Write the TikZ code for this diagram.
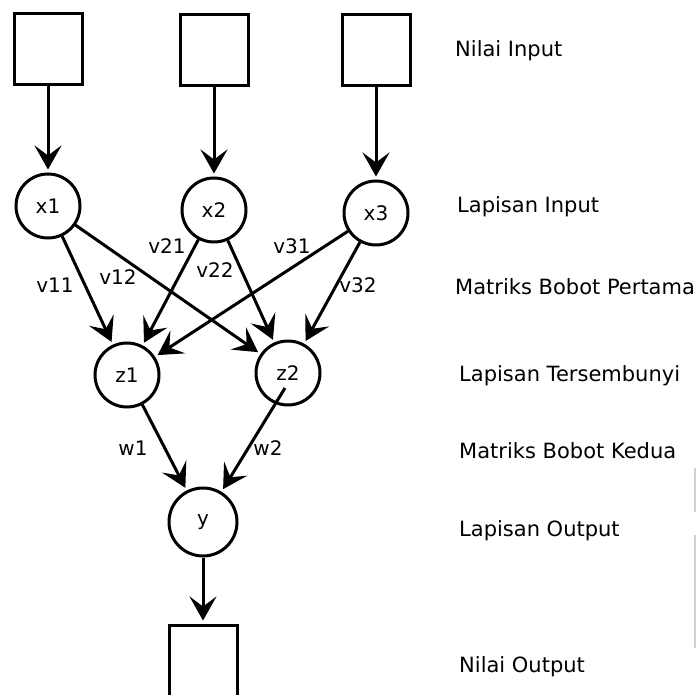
\documentclass[tikz,border=0pt]{standalone}
\usepackage{fontspec}
\setmainfont{DejaVu Sans}
\usetikzlibrary{arrows.meta}
\begin{document}
\begin{tikzpicture}[x=1pt,y=-1pt,
  lw/.style={line width=3pt},
  neuron/.style={circle,draw,lw,minimum size=64pt,inner sep=0pt,font=\fontsize{20}{24}\selectfont},
  outneuron/.style={neuron,minimum size=68pt},
  valbox/.style={rectangle,draw,lw,minimum width=68pt,minimum height=71pt,inner sep=0pt},
  arr/.style={lw,shorten >=3pt,-{Stealth[length=24pt,width=27pt,inset=10pt]}},
  wlabel/.style={font=\fontsize{20}{24}\selectfont,inner sep=0pt},
  side/.style={anchor=west,font=\fontsize{21}{25}\selectfont,inner sep=0pt}]
\useasboundingbox (0,0) rectangle (696,695);
\fill[white] (0,0) rectangle (696,695);
% input boxes
\node[valbox] (b1) at (48,49) {};
\node[valbox] (b2) at (214,50) {};
\node[valbox] (b3) at (376,50) {};
% input layer
\node[neuron] (x1) at (48,206) {x1};
\node[neuron] (x2) at (214,210) {x2};
\node[neuron] (x3) at (376,213) {x3};
% hidden layer
\node[neuron] (z1) at (127,375) {z1};
\node[neuron] (z2) at (288,373) {z2};
% output
\node[outneuron] (y) at (203,522) {y};
\node[valbox,minimum height=72pt] (bo) at (203,661) {};
% connectors
\draw[arr] (b1) -- (x1);
\draw[arr] (b2) -- (x2);
\draw[arr] (b3) -- (x3);
\draw[arr] (x1) -- (z1);
\draw[arr] (x1) -- (z2);
\draw[arr] (x2) -- (z1);
\draw[arr] (x2) -- (z2);
\draw[arr] (x3) -- (z1);
\draw[arr] (x3) -- (z2);
\draw[arr] (z1) -- (y);
\coordinate (z2s) at (285,388);
\draw[arr] (z2s) -- (y);
\draw[arr] (y) -- (bo);
% weight labels
\node[wlabel] (l11) at (55,285) {v11};
\node[wlabel] (l12) at (118,277) {v12};
\node[wlabel] (l21) at (167,246) {v21};
\node[wlabel] (l22) at (215,270) {v22};
\node[wlabel] (l31) at (292,246) {v31};
\node[wlabel] (l32) at (358,285) {v32};
\node[wlabel] (lw1) at (133,448) {w1};
\node[wlabel] (lw2) at (268,448) {w2};
% side texts
\node[side] (t1) at (455,51) {Nilai Input};
\node[side] (t2) at (457,207) {Lapisan Input};
\node[side] (t3) at (455,287) {Matriks Bobot Pertama};
\node[side] (t4) at (459,376) {Lapisan Tersembunyi};
\node[side] (t5) at (459,451) {Matriks Bobot Kedua};
\node[side] (t6) at (459,531) {Lapisan Output};
\node[side] (t7) at (459,667) {Nilai Output};
% faint edge marks
\draw[gray!35,line width=1.5pt] (695,468) -- (695,512);
\draw[gray!35,line width=1.5pt] (695,535) -- (695,648);
\end{tikzpicture}
\end{document}
